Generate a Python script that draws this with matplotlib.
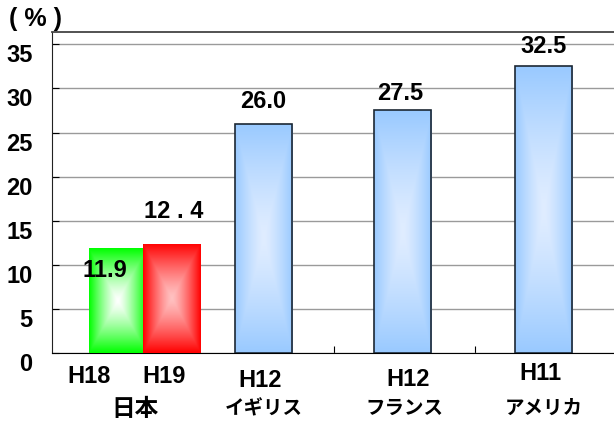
import numpy as np
import matplotlib.pyplot as plt
import matplotlib.transforms as mtransforms

plt.rcParams['font.family'] = ['Liberation Sans', 'Noto Sans CJK JP', 'DejaVu Sans']

# bar data
bar_x = [-0.035, 0.35, 1.0, 1.99, 2.99]
values = [11.9, 12.4, 26.0, 27.5, 32.5]
value_labels = ['11.9', '12 . 4', '26.0', '27.5', '32.5']
years = ['H18', 'H19', 'H12', 'H12', 'H11']
countries = ['日本', 'イギリス', 'フランス', 'アメリカ']

year_x = [-0.235, 0.295, 0.975, 2.03, 2.97]
year_y = [-17, -17, -20, -19, -15]
country_x = [0.09, 1.0, 2.0, 2.99]
country_size = [17, 14, 14, 14]

# inner / outer colours for the shaded fills
inner = [(1.0, 1.0, 1.0), (1.0, 0.76, 0.76), (0.88, 0.93, 1.0), (0.88, 0.93, 1.0), (0.88, 0.93, 1.0)]
outer = [(0.0, 1.0, 0.0), (1.0, 0.0, 0.0), (0.6, 0.79, 1.0), (0.6, 0.79, 1.0), (0.6, 0.79, 1.0)]
edges = ['none', 'none', '#1c2733', '#1c2733', '#1c2733']
label_off = [(-9, -16), (1, 23), (0, 16), (-2, 12), (0, 14)]


def shade(ax, patch, c_in, c_out):
    x, y = patch.get_x(), patch.get_y()
    w, h = patch.get_width(), patch.get_height()
    u = np.linspace(-1, 1, 200)
    U, V = np.meshgrid(u, u)
    d = np.clip(np.maximum(np.abs(U), np.abs(V)), 0, 1) ** 1.3
    img = np.zeros((200, 200, 3))
    for k in range(3):
        img[:, :, k] = c_in[k] + (c_out[k] - c_in[k]) * d
    im = ax.imshow(img, extent=[x, x + w, y, y + h], aspect='auto',
                   zorder=patch.get_zorder() - 0.1, interpolation='bilinear')
    im.set_clip_path(patch)


fig = plt.figure(figsize=(6.14, 4.24), dpi=100)
ax = fig.add_axes([0.085, 0.1675, 0.915, 0.757])

bars = ax.bar(bar_x, values, width=0.405, facecolor='none', zorder=3)
for i, b in enumerate(bars):
    b.set_edgecolor(edges[i])
    b.set_linewidth(1.2)
    shade(ax, b, inner[i], outer[i])
    ax.annotate(value_labels[i], (b.get_x() + b.get_width() / 2, b.get_height()),
                xytext=label_off[i], textcoords='offset points',
                ha='center', va='center', fontsize=17, fontweight='bold', zorder=5)

ax.set_xlim(-0.5, 3.49)
ax.set_ylim(0, 36.4)
ax.set_yticks(range(0, 36, 5))
ax.yaxis.grid(True, color='#9a9a9a', linewidth=1)
ax.set_axisbelow(True)
ax.tick_params(axis='y', direction='in', length=5, labelsize=17, pad=14)
# tick labels sit a little below their grid lines
shift = mtransforms.ScaledTranslation(0, -0.09, fig.dpi_scale_trans)
for lab in ax.get_yticklabels():
    lab.set_fontweight('bold')
    lab.set_transform(lab.get_transform() + shift)
ax.set_xticks([0.5, 1.5, 2.5])
ax.set_xticklabels([])
ax.tick_params(axis='x', direction='in', length=5)

ax.spines['right'].set_visible(False)
ax.spines['top'].set_color('#444444')
ax.spines['left'].set_color('#222222')
ax.spines['bottom'].set_color('#000000')
ax.spines['top'].set_linewidth(1.3)

trans = ax.get_xaxis_transform()
for xp, yp, t in zip(year_x, year_y, years):
    ax.annotate(t, (xp, 0), xycoords=trans, xytext=(0, yp), textcoords='offset points',
                ha='center', va='center', fontsize=17, fontweight='bold')
for xp, fs, t in zip(country_x, country_size, countries):
    ax.annotate(t, (xp, 0), xycoords=trans, xytext=(0, -40), textcoords='offset points',
                ha='center', va='center', fontsize=fs, fontweight='bold',
                family=['Noto Sans CJK JP'])

fig.text(0.015, 0.955, '( % )', fontsize=18, fontweight='bold', va='center', ha='left')

fig.savefig('out.png', dpi=100)
